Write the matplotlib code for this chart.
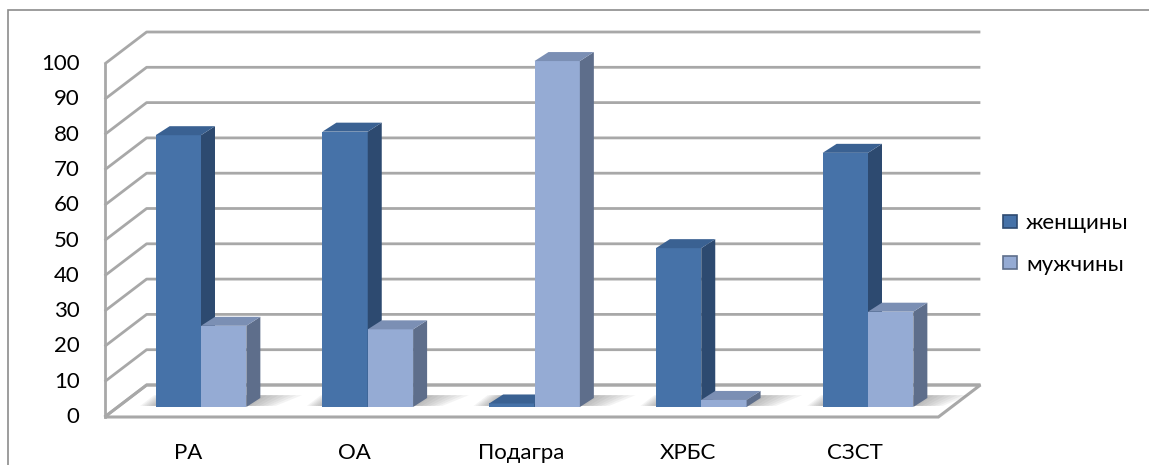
import matplotlib
matplotlib.use("Agg")
import matplotlib.pyplot as plt
from matplotlib.patches import Polygon, Patch, Rectangle
import numpy as np

plt.rcParams['font.family'] = ['Lato', 'DejaVu Sans']

# data
categories = ['РА', 'ОА', 'Подагра', 'ХРБС', 'СЗСТ']
women = [77, 78, 1, 45, 72]
men = [23, 22, 98, 2, 27]
series_names = ['женщины', 'мужчины']
yticks = list(range(0, 101, 10))

# colours: front, side, top
women_c = ('#4672a8', '#2d4a70', '#3a6192')
men_c = ('#95abd4', '#5e6e8b', '#7b8fb4')
grid_c = '#a8a8a8'

# figure geometry (pixels)
W, H = 1149, 465
px_cat = 166.75      # pixels per category
px_val = 3.53        # pixels per value unit
x0_px, y0_px = 201, 407   # first category centre, bar baseline

fig = plt.figure(figsize=(W / 100, H / 100), dpi=100)
ax = fig.add_axes([0, 0, 1, 1])
ax.set_xlim(-x0_px / px_cat, (W - x0_px) / px_cat)
ax.set_ylim(-(H - y0_px) / px_val, y0_px / px_val)
ax.axis('off')

# depth offsets (in data units) relative to the plane of the bars
front = (-13 / px_cat, -10 / px_val)
back = (29 / px_cat, 22 / px_val)
bar_depth = (14 / px_cat, 9 / px_val)
bw = 0.272

n = len(categories)
xl, xr = -0.5, n - 0.5

# floor
floor = [(xl + front[0], front[1]), (xr + front[0], front[1]),
         (xr + back[0], back[1]), (xl + back[0], back[1])]
ax.add_patch(Polygon(floor, closed=True, facecolor='white',
                     edgecolor=grid_c, lw=2.2, zorder=1))

# gridlines on left and back walls
for v in yticks:
    ax.plot([xl + front[0], xl + back[0], xr + back[0]],
            [v + front[1], v + back[1], v + back[1]],
            color=grid_c, lw=2.0, solid_capstyle='butt', zorder=1)
ax.plot([xl + front[0], xl + front[0]], [front[1], yticks[-1] + front[1]],
        color=grid_c, lw=2.0, zorder=1)

# tick labels on the front left edge
for v in yticks:
    ax.text(xl + front[0] - 25 / px_cat, v + front[1], str(v),
            ha='right', va='center', fontsize=16, color='black')

# bars
def bar3d(x, v, cols, z):
    ax.bar(x, v, bw, align='edge', color=cols[0], edgecolor='none', zorder=z)
    dx, dy = bar_depth
    side = [(x + bw, 0), (x + bw, v), (x + bw + dx, v + dy), (x + bw + dx, dy)]
    top = [(x, v), (x + bw, v), (x + bw + dx, v + dy), (x + dx, v + dy)]
    ax.add_patch(Polygon(side, closed=True, facecolor=cols[1], edgecolor='none', zorder=z))
    ax.add_patch(Polygon(top, closed=True, facecolor=cols[2], edgecolor='none', zorder=z))

def floor_shadow(xa, xb, z):
    # soft shadow on the floor, fading away from the bars
    dx, dy = bar_depth
    for k in range(7):
        ext_r = 0.04 + 0.035 * k
        ext_l = 0.015 + 0.013 * k
        pts = [(xa - ext_l, 0.3), (xb + ext_r * 0.7, 0.3),
               (xb + dx + ext_r, dy + 0.8), (xa + dx - ext_l, dy + 0.8)]
        ax.add_patch(Polygon(pts, closed=True, facecolor='#606060',
                             alpha=0.07, edgecolor='none', zorder=z))

xs = np.arange(n)
for i in range(n):
    floor_shadow(xs[i] - bw, xs[i] + bw, 2)
    bar3d(xs[i] - bw, women[i], women_c, 3 + 2 * i)
    bar3d(xs[i], men[i], men_c, 4 + 2 * i)

# category labels
for i, name in enumerate(categories):
    ax.text(xs[i] + front[0], -(453 - y0_px) / px_val, name,
            ha='center', va='center', fontsize=16, color='black')

# legend
handles = [Patch(facecolor=women_c[0], edgecolor=women_c[1], lw=1.2, label=series_names[0]),
           Patch(facecolor=men_c[0], edgecolor=men_c[1], lw=1.2, label=series_names[1])]
fig.legend(handles=handles, loc='center left',
           bbox_to_anchor=(1003 / W, 1 - 244 / H), frameon=False,
           fontsize=16, handlelength=0.62, handleheight=0.55,
           handletextpad=0.42, labelspacing=0.95, borderpad=0,
           borderaxespad=0)

# chart border (right and bottom edges lie outside the picture)
fig.patches.append(Rectangle((8 / W, -0.1), 1.2, 1.1 - 10 / H,
                             transform=fig.transFigure, fill=False,
                             edgecolor='#8c8c8c', lw=1.2))

fig.savefig('out.png', dpi=100)
